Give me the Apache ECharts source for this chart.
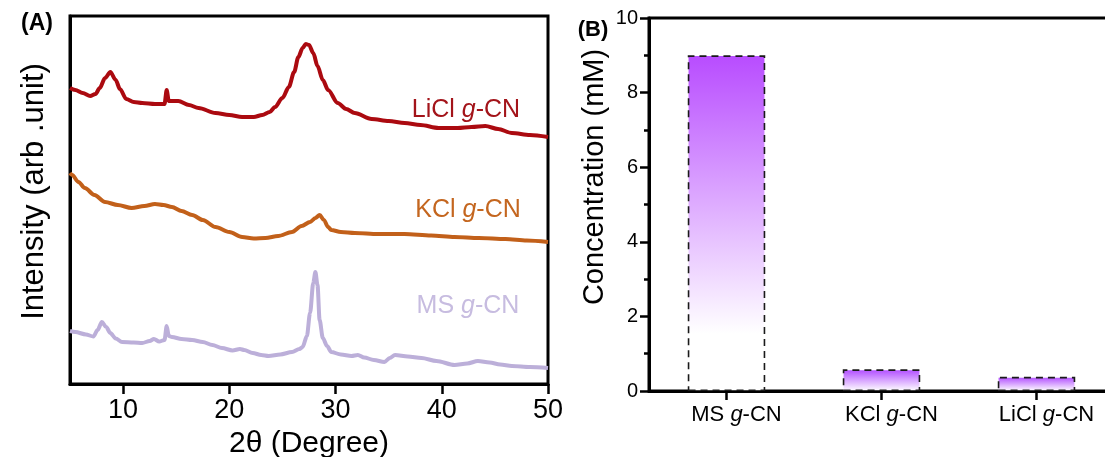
<!DOCTYPE html>
<html>
<head>
<meta charset="utf-8">
<script src="https://cdn.jsdelivr.net/npm/echarts@6/dist/echarts.min.js"></script>
<style>
  html, body { margin: 0; padding: 0; background: #fff; }
  #chart { width: 1105px; height: 457px; }
</style>
</head>
<body>
<div id="chart"></div>
<script>
// ---- (A) XRD patterns: 2θ (degree) and intensity (arb. unit, stacked offsets) ----
const licl2Theta = [5.0,5.5,6.2,6.9,7.4,7.8,8.3,8.8,9.3,9.7,10.3,11.0,11.8,13.0,13.9,14.1,14.3,15.2,16.2,17.1,18.7,20.0,21.2,22.3,23.1,23.8,24.3,25.0,25.6,26.1,26.5,26.9,27.2,27.5,27.9,28.3,28.8,29.3,30.2,31.0,31.8,33.4,35.0,36.5,38.0,39.7,41.5,42.8,44.1,45.3,46.6,48.3,50.0];
const liclIntensity = [296,294,291,288,290,296,306,312,304,295,285,282,281,280,280,294,283,283,279,276,271,269,267,267,269,272,277,286,297,312,327,336,340,339,331,318,304,294,281,275,271,265,263,261,259,256,256,257,258,255,251,249,247];

const kcl2Theta = [5.0,5.2,5.8,6.4,7.3,8.3,9.5,10.8,12.0,13.0,13.8,14.6,15.5,16.5,17.5,18.7,20.0,21.2,22.3,23.4,24.6,25.9,26.8,27.6,28.1,28.5,28.9,29.3,29.6,30.5,31.8,34.0,36.5,39.0,41.2,43.5,46.0,48.0,50.0];
const kclIntensity = [211,209,202,196,189,182,179,176,178,180,179,177,173,169,164,157,152,147,145.5,146,148,152,158,162,166,169,164,157,154,152,151,150,150,148.5,147,146,145,143.5,142];

const ms2Theta = [5.0,5.5,6.5,7.2,7.6,8.0,8.4,8.8,9.3,9.9,11.0,11.8,12.5,12.9,13.4,13.9,14.1,14.3,14.6,15.5,16.5,17.5,18.4,19.3,20.3,21.0,21.4,22.2,23.0,23.7,24.8,25.9,26.6,26.9,27.3,27.6,27.9,28.1,28.3,28.5,28.8,29.2,29.6,30.5,31.5,32.1,32.7,33.6,34.6,35.1,35.6,36.8,38.1,39.5,41.2,42.4,43.4,44.5,45.5,46.6,48.3,50.0];
const msIntensity = [53,52,49.5,47.5,54,62,57,51,45.5,42,41.5,41,43,45,42.5,44,58,48,47,45,44,42,39,36,33.5,35,34,31,29,28,29.5,32,35,37,48,71,101,112,99,64,46,38,32,29.5,28,29,26.5,24,22,26,29,27.5,26,23,19,20.5,23,21.5,19.5,18,17,16];

const twoThetaTicks = [10, 20, 30, 40, 50];

// ---- (B) concentration per sample (mM) ----
const samples = ['MS g-CN', 'KCl g-CN', 'LiCl g-CN'];
const concentration = [9.0, 0.58, 0.38];

const FONT = '"Liberation Sans", Arial, sans-serif';
const pair = (xs, ys) => xs.map((x, i) => [x, ys[i]]);
const italicG = s => s.replace(' g-', ' {i|g}-');

const chart = echarts.init(document.getElementById('chart'), null, { renderer: 'canvas' });

const frameLine = () => ({ show: true, onZero: false, lineStyle: { color: '#000', width: 3 } });
const hidden = () => ({ show: false });
const outTick = (len, extra) => Object.assign({ show: true, inside: false, length: len, lineStyle: { width: 2.5, color: '#000' } }, extra || {});

function curve(name, xs, ys, color) {
  return {
    name, type: 'line', xAxisIndex: 0, yAxisIndex: 0,
    data: pair(xs, ys),
    showSymbol: false, smooth: 0.3, smoothMonotone: 'x',
    lineStyle: { color, width: 4 },
    silent: true
  };
}

function barFill(stopAt, top) {
  return new echarts.graphic.LinearGradient(0, 0, 0, 1, [
    { offset: 0, color: top },
    { offset: stopAt, color: '#ffffff' },
    { offset: 1, color: '#ffffff' }
  ]);
}

function curveLabel(text, x, y, color) {
  return {
    type: 'text', x, y,
    style: {
      text: italicG(text), fill: color, font: '25px ' + FONT,
      fontSize: 25, fontFamily: FONT,
      align: 'center', verticalAlign: 'middle',
      rich: { i: { fontStyle: 'italic', fontSize: 25, fontFamily: FONT, fill: color } }
    }
  };
}

const option = {
  backgroundColor: '#fff',
  animation: false,
  // each grid draws its own closed frame; panel (B) runs past the right edge
  grid: [
    { left: 70, top: 16, width: 478, height: 368, outerBoundsMode: 'none', containLabel: false,
      show: true, borderColor: '#000', borderWidth: 3, backgroundColor: 'transparent' },
    { left: 649, top: 18, width: 465, height: 373, outerBoundsMode: 'none', containLabel: false,
      show: true, borderColor: '#000', borderWidth: 3, backgroundColor: 'transparent' }
  ],
  xAxis: [
    {
      type: 'value', gridIndex: 0, min: 5, max: 50, position: 'bottom',
      axisLine: frameLine(),
      axisTick: outTick(10, { customValues: twoThetaTicks }),
      axisLabel: { customValues: twoThetaTicks, color: '#000', fontSize: 27, fontFamily: FONT, margin: 13 },
      splitLine: hidden(),
      name: '2θ (Degree)', nameLocation: 'middle', nameGap: 36,
      nameTextStyle: { color: '#000', fontSize: 30, fontFamily: FONT }
    },
    {
      type: 'category', gridIndex: 1, data: samples, position: 'bottom',
      axisLine: frameLine(),
      axisTick: outTick(9, { alignWithLabel: true }),
      axisLabel: {
        interval: 0, color: '#000', fontSize: 22, fontFamily: FONT, margin: 13,
        padding: [0, 0, 0, 20],
        formatter: v => italicG(v),
        rich: { i: { fontStyle: 'italic', fontSize: 22, fontFamily: FONT, color: '#000' } }
      },
      splitLine: hidden()
    }
  ],
  yAxis: [
    {
      type: 'value', gridIndex: 0, min: 0, max: 368, position: 'left',
      axisLine: frameLine(), axisTick: hidden(), axisLabel: hidden(), splitLine: hidden(),
      name: 'Intensity (arb .unit)', nameLocation: 'middle', nameGap: 20,
      nameTextStyle: { color: '#000', fontSize: 31, fontFamily: FONT, padding: [0, 0, 0, 17] }
    },
    {
      type: 'value', gridIndex: 1, min: 0, max: 10, interval: 2, position: 'left',
      axisLine: frameLine(),
      axisTick: outTick(9),
      minorTick: { show: true, splitNumber: 2, length: 5, lineStyle: { width: 2.5, color: '#000' } },
      axisLabel: { color: '#000', fontSize: 20, fontFamily: FONT, margin: 11 },
      splitLine: hidden(),
      name: 'Concentration (mM)', nameLocation: 'middle', nameGap: 40,
      nameTextStyle: { color: '#000', fontSize: 29, fontFamily: FONT, padding: [0, 0, 0, 55] }
    }
  ],
  series: [
    curve('MS g-CN', ms2Theta, msIntensity, '#bcafd9'),
    curve('KCl g-CN', kcl2Theta, kclIntensity, '#c2601a'),
    curve('LiCl g-CN', licl2Theta, liclIntensity, '#ab0a10'),
    {
      name: 'Concentration', type: 'bar', xAxisIndex: 1, yAxisIndex: 1,
      barWidth: '50%',
      data: concentration.map((v, i) => ({
        value: v,
        itemStyle: { color: i === 0 ? barFill(0.83, '#b84cff') : barFill(1, '#b04aff') }
      })),
      itemStyle: { borderColor: '#1a1a1a', borderWidth: 1.6, borderType: [7, 5] },
      silent: true
    }
  ],
  graphic: [
    { type: 'text', x: 37, y: 24, style: { text: '(A)', font: 'bold 23px ' + FONT, fill: '#000', align: 'center', verticalAlign: 'middle' } },
    { type: 'text', x: 593, y: 30, style: { text: '(B)', font: 'bold 22px ' + FONT, fill: '#000', align: 'center', verticalAlign: 'middle' } },
    curveLabel('LiCl g-CN', 466, 110, '#a3141a'),
    curveLabel('KCl g-CN', 468, 210, '#c4661f'),
    curveLabel('MS g-CN', 468, 306, '#c7bce0')
  ]
};

chart.setOption(option);
</script>
</body>
</html>
